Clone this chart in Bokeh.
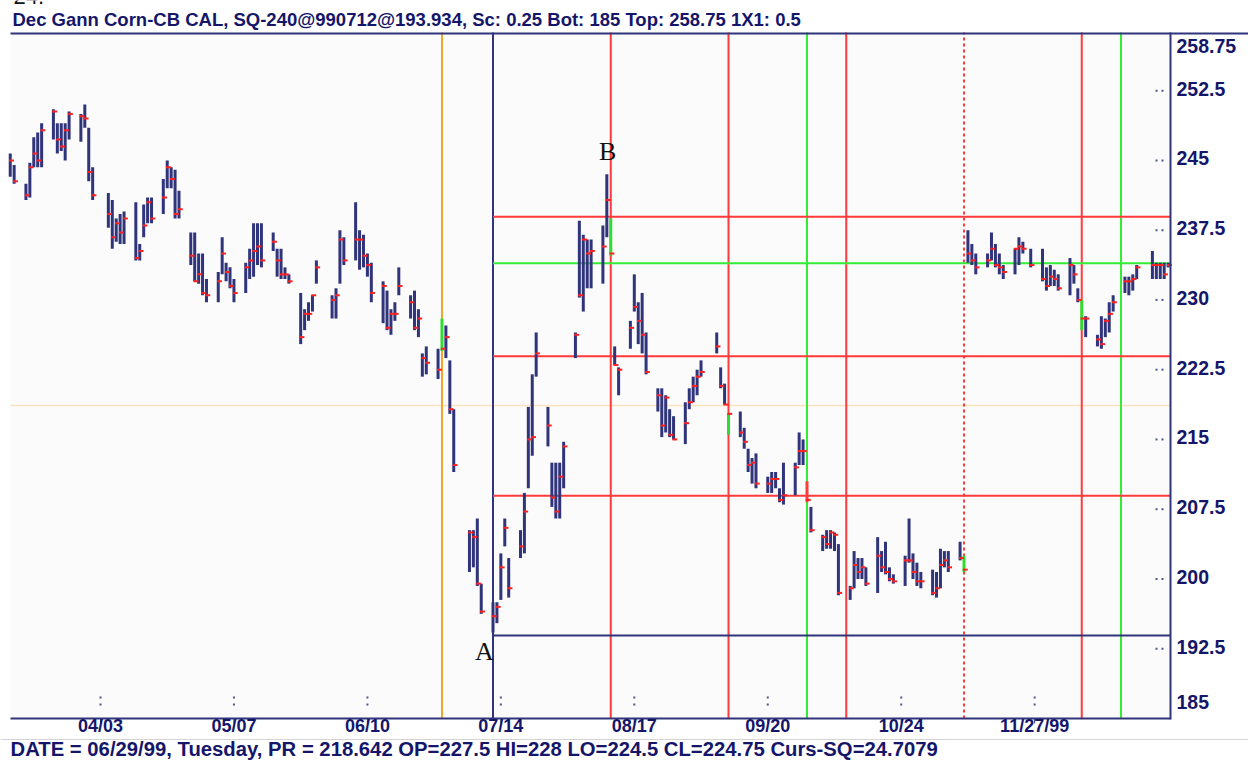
import pandas as pd
from bokeh.plotting import figure
from bokeh.models import Range1d, ColumnDataSource
from bokeh.core.properties import value
from bokeh.embed import file_html
from bokeh.resources import INLINE

# ---------------- data ----------------
first_day, last_day = "1999-03-11", "1999-12-31"
holidays = ["1999-04-02", "1999-05-31", "1999-07-05", "1999-09-06", "1999-11-25", "1999-12-24"]

highs = [
    245.75, 244.5,
    242.5, 244.75, 247.5, 248.0, 249.0,
    250.5, 249.0, 249.0, 249.0, 250.25,
    250.0, 251.0, 248.5, 244.25,
    241.5, 240.75, 238.75, 239.25, 239.5,
    240.5, 236.0, 240.25, 241.0, 241.0,
    243.0, 245.0, 244.25, 244.0, 241.75,
    237.25, 237.25, 235.0, 235.0, 232.25,
    233.0, 236.75, 234.0, 233.5, 232.25,
    234.0, 235.5, 238.25, 238.25, 238.25,
    237.25, 235.5, 235.5, 233.5, 232.75,
    230.75, 229.0, 229.75, 230.5, 234.25,
    230.5, 231.25, 237.5, 236.75,
    240.5, 237.5, 237.0, 235.0, 234.0,
    232.0, 231.0, 229.0, 229.75, 233.5,
    230.5, 231.0, 229.0, 224.25, 225.0,
    224.75, 228.0, 227.25, 223.5, 218.25,
    205.25, 205.25, 206.5, 199.5,
    197.5, 197.5, 202.75, 206.5, 202.25,
    205.25, 209.25, 218.5, 222.0, 226.5,
    218.5, 212.5, 212.5, 212.5, 214.75,
    226.5, 238.5, 237.0, 236.5, 236.5,
    238.0, 243.5, 238.75, 225.0, 222.75,
    227.75, 232.75, 229.75, 230.75, 226.5,
    220.5, 220.5, 219.75, 218.25, 217.5,
    219.0, 220.5, 221.75, 222.5, 223.5,
    226.5, 222.75, 221.0, 217.75,
    218.0, 216.25, 214.0, 213.0, 213.5,
    211.0, 211.5, 211.5, 209.75, 212.5,
    212.5, 215.75, 215.0, 210.5, 207.75,
    204.75, 205.25, 205.25, 205.0, 203.75,
    199.25, 203.0, 202.25, 202.25, 201.25,
    204.5, 203.0, 204.0, 201.25, 200.5,
    202.5, 206.5, 202.75, 201.75, 200.75,
    201.0, 200.75, 203.25, 203.0, 203.0,
    204.0, 202.5, 237.5, 236.0, 235.0,
    235.0, 237.25, 236.0, 235.0, 233.75,
    235.5, 236.75, 236.25, 235.5,
    235.5, 233.5, 233.75, 233.25, 232.75,
    234.5, 233.75, 231.25, 230.0, 228.25,
    226.25, 228.25, 228.0, 229.75, 230.5,
    232.5, 232.5, 232.75, 233.75,
    235.25, 234.0, 234.0, 234.0, 234.0,
]
lows = [
    243.25, 242.5,
    240.75, 241.0, 244.25, 244.25, 244.25,
    247.25, 245.75, 246.0, 245.0, 247.25,
    247.0, 248.5, 242.75, 240.75,
    237.75, 235.5, 236.25, 236.0, 236.0,
    234.25, 234.25, 236.75, 238.25, 238.25,
    239.25, 242.0, 242.0, 238.75, 238.75,
    233.75, 232.0, 231.75, 230.5, 229.75,
    229.75, 232.75, 232.0, 231.25, 229.75,
    230.75, 232.25, 232.5, 233.75, 233.5,
    235.25, 232.5, 232.25, 232.25, 231.75,
    225.25, 226.75, 227.75, 228.75, 231.75,
    228.0, 228.0, 231.75, 233.75,
    234.25, 233.25, 233.5, 232.5, 229.75,
    227.5, 226.75, 226.25, 227.75, 230.5,
    228.0, 226.75, 226.0, 221.75, 222.0,
    221.5, 224.5, 223.75, 217.75, 211.5,
    200.75, 201.25, 199.25, 196.25,
    194.25, 195.25, 197.75, 203.5, 198.0,
    202.25, 202.75, 209.75, 213.25, 221.75,
    214.25, 207.75, 206.5, 206.5, 209.75,
    223.75, 230.25, 228.75, 231.25, 231.25,
    231.75, 236.75, 234.75, 223.0, 219.75,
    224.75, 228.75, 225.25, 224.25, 222.0,
    218.0, 215.25, 215.75, 215.25, 215.0,
    214.5, 218.25, 219.0, 219.75, 221.75,
    224.25, 220.5, 218.75, 215.5,
    215.25, 214.0, 211.5, 210.25, 209.75,
    209.25, 209.25, 209.75, 208.25, 208.0,
    209.0, 212.25, 212.25, 208.25, 205.0,
    203.0, 203.25, 203.25, 203.0, 198.25,
    197.75, 199.0, 200.0, 200.0, 199.25,
    198.5, 200.75, 200.5, 199.75, 199.5,
    199.25, 201.75, 200.0, 199.25, 199.0,
    198.25, 198.0, 199.0, 201.25, 200.75,
    202.0, 200.75, 234.0, 233.75, 232.75,
    233.5, 234.25, 233.5, 232.75, 232.25,
    232.75, 233.75, 235.0, 233.5,
    232.0, 231.0, 231.5, 231.5, 231.0,
    230.5, 231.75, 229.75, 226.75, 226.0,
    225.0, 224.75, 226.0, 226.5, 228.75,
    230.75, 230.5, 231.0, 232.25,
    232.25, 232.25, 232.25, 232.25, 233.5,
]
closes = [
    245.0, 242.75,
    241.25, 244.25, 245.75, 245.0, 248.25,
    250.25, 247.25, 246.5, 248.25, 250.0,
    249.75, 249.5, 243.75, 241.25,
    239.25, 236.75, 238.25, 237.25, 238.75,
    234.5, 235.25, 238.0, 240.5, 238.75,
    241.0, 244.25, 243.0, 239.25, 239.75,
    234.75, 232.0, 232.75, 230.75, 230.5,
    232.0, 235.0, 233.0, 231.5, 230.75,
    233.5, 234.25, 235.25, 235.75, 234.25,
    236.25, 234.25, 232.75, 232.75, 232.0,
    226.0, 228.5, 228.5, 230.5, 233.5,
    230.0, 230.5, 236.5, 234.25,
    236.5, 236.5, 234.75, 233.75, 230.75,
    231.5, 227.0, 228.5, 228.5, 231.5,
    229.75, 227.0, 228.0, 223.75, 223.25,
    222.5, 224.75, 226.0, 218.25, 212.25,
    205.0, 204.5, 199.5, 196.5,
    196.0, 197.0, 201.25, 205.5, 199.0,
    203.5, 207.25, 215.0, 215.25, 224.25,
    216.5, 208.75, 207.25, 211.0, 214.25,
    226.25, 230.5, 236.5, 235.0, 235.25,
    235.75, 240.75, 235.0, 223.0, 222.5,
    227.0, 229.25, 227.75, 226.25, 222.25,
    219.75, 216.5, 219.5, 215.5, 215.0,
    216.75, 219.0, 220.75, 221.75, 222.25,
    225.0, 220.75, 218.75, 217.75,
    215.75, 214.75, 212.25, 212.5, 210.25,
    210.25, 210.75, 210.75, 208.5, 209.0,
    212.0, 213.75, 213.75, 208.5, 205.25,
    204.5, 203.75, 205.0, 204.75, 198.5,
    199.0, 201.5, 200.75, 201.25, 199.5,
    202.5, 201.25, 200.75, 200.0, 199.75,
    202.0, 202.0, 200.75, 199.75, 199.75,
    198.5, 199.0, 201.5, 202.0, 201.25,
    202.25, 201.0, 235.0, 234.25, 233.5,
    234.25, 235.5, 233.75, 233.5, 233.0,
    235.5, 235.75, 235.5, 233.75,
    232.25, 231.5, 232.5, 232.25, 231.25,
    233.75, 232.75, 230.0, 228.0, 228.0,
    225.75, 225.25, 227.75, 228.5, 229.75,
    232.0, 232.0, 232.25, 233.5,
    233.75, 233.75, 233.75, 232.75, 233.75,
]

# Gann square settings
sq_date, sq_price = "1999-07-12", 193.934
red_levels = [208.934, 223.934, 238.934]
green_levels = [233.934]
red_vdates = ["1999-08-11", "1999-09-10", "1999-10-10", "1999-12-09"]
red_dashed_vdates = ["1999-11-09"]
green_vdates = ["1999-09-30", "1999-12-19"]
cursor_date, cursor_price = "1999-06-29", 218.642

marker_text = ["A", "B"]
marker_dates = ["1999-07-09 19:00", "1999-08-10 05:00"]
marker_prices = [192.15, 245.95]

x_tick_dates = ["1999-04-03", "1999-05-07", "1999-06-10", "1999-07-14",
                "1999-08-17", "1999-09-20", "1999-10-24", "1999-11-27"]
x_tick_labels = ["04/03", "05/07", "06/10", "07/14", "08/17", "09/20", "10/24", "11/27/99"]
y_ticks = [192.5, 200, 207.5, 215, 222.5, 230, 237.5, 245, 252.5]
y_bottom, y_top = 185, 258.75

title_text = "Dec Gann Corn-CB CAL, SQ-240@990712@193.934, Sc: 0.25 Bot: 185 Top: 258.75 1X1: 0.5"
status_text = ("DATE = 06/29/99, Tuesday, PR = 218.642 OP=227.5 HI=228 LO=224.5 "
               "CL=224.75 Curs-SQ=24.7079")
page_note = "24."

# ---------------- scales / layout helpers ----------------
EPOCH = pd.Timestamp("1970-01-01")
DAY = 86400000.0


def ms(d):
    return (pd.Timestamp(d) - EPOCH) / pd.Timedelta(milliseconds=1)


W, H = 1248, 761
PLOT_L, PLOT_R, PLOT_T, PLOT_B = 10, 1170, 32, 718       # pixel box of the price panel
x_start = ms("1999-03-11 01:40")
PX_PER_DAY = 3.925
PX_PER_UNIT = (PLOT_B - PLOT_T) / (y_top - y_bottom)
LIFT = 2  # visual centre correction for middle-baseline text, px


def X(px):   # page pixel -> date axis value
    return x_start + (px - PLOT_L) / PX_PER_DAY * DAY


def Y(py):   # page pixel -> price axis value
    return y_bottom + (PLOT_B - py) / PX_PER_UNIT


x_end = X(PLOT_R)

days = [d for d in pd.bdate_range(first_day, last_day) if d.strftime("%Y-%m-%d") not in holidays]
n = min(len(days), len(highs), len(lows), len(closes))
xs = [ms(d) for d in days[:n]]

NAVY = "#30347a"
TXT = "#15166a"
RED = "#ff3a3a"
GREEN = "#35ec35"
SANS = "Liberation Sans"

green_bar_days = set([cursor_date] + red_vdates + red_dashed_vdates)
red_bar_days = set(green_vdates)
colors = []
for d in days[:n]:
    s = d.strftime("%Y-%m-%d")
    colors.append("#2fdc2f" if s in green_bar_days else (RED if s in red_bar_days else NAVY))

src = ColumnDataSource(dict(x=xs, hi=highs[:n], lo=lows[:n], cl=closes[:n], color=colors,
                            tl=[x - 0.3 * DAY for x in xs], tr=[x + 0.95 * DAY for x in xs]))

p = figure(width=W, height=H, x_axis_type="datetime", title=None,
           x_axis_location=None, y_axis_location=None,
           x_range=Range1d(X(0), X(W)), y_range=Range1d(Y(H), Y(0)),
           output_backend="svg", toolbar_location=None,
           min_border=0, min_border_left=0, min_border_right=0,
           min_border_top=0, min_border_bottom=0,
           background_fill_color="white", border_fill_color="white", outline_line_color=None)
p.grid.visible = False

# price-panel background
p.quad(left=[x_start], right=[x_end], bottom=[y_bottom], top=[y_top],
       fill_color="#fbfbfb", line_color=None)

# ---------------- cursor & Gann lines ----------------
p.segment(x0=[x_start], x1=[x_end], y0=[cursor_price], y1=[cursor_price],
          line_color="#fde3bd", line_width=1.5)


def vlines(dates, color, dash="solid"):
    v = [ms(d) for d in dates]
    p.segment(x0=v, x1=v, y0=[y_bottom] * len(v), y1=[y_top] * len(v),
              line_color=color, line_width=2, line_dash=dash)


vlines([cursor_date], "#f4a42c")
vlines([sq_date], NAVY)
vlines(red_vdates, RED)
vlines(red_dashed_vdates, RED, "3 3")
vlines(green_vdates, GREEN)

sx = ms(sq_date)
p.segment(x0=[sx] * len(red_levels), x1=[x_end] * len(red_levels),
          y0=red_levels, y1=red_levels, line_color=RED, line_width=2)
p.segment(x0=[sx] * len(green_levels), x1=[x_end] * len(green_levels),
          y0=green_levels, y1=green_levels, line_color=GREEN, line_width=2)
p.segment(x0=[sx], x1=[x_end], y0=[sq_price], y1=[sq_price], line_color=NAVY, line_width=2)

# ---------------- bars ----------------
p.segment(x0="x", x1="x", y0="lo", y1="hi", line_color="color", line_width=3,
          line_cap="butt", source=src)
p.segment(x0="tl", x1="tr", y0="cl", y1="cl", line_color="#ff2020", line_width=2,
          line_cap="butt", source=src)

# ---------------- A / B labels ----------------
p.text(x=[ms(d) for d in marker_dates], y=marker_prices, text=marker_text,
       text_font=value("Liberation Serif"), text_font_size="26px", text_color="#111111",
       text_align="center", text_baseline="middle")

# ---------------- dotted tick marks inside the panel ----------------
xt = [ms(d) for d in x_tick_dates]
p.scatter(x=xt + xt, y=[Y(697)] * len(xt) + [Y(704)] * len(xt), marker="square", size=2,
          line_color=None, fill_color="#50548a")
p.scatter(x=[X(1156)] * len(y_ticks) + [X(1162)] * len(y_ticks), y=y_ticks + y_ticks,
          marker="square", size=2, line_color=None, fill_color="#50548a")

# ---------------- axis lines ----------------
p.segment(x0=[x_start], x1=[x_end], y0=[y_bottom], y1=[y_bottom], line_color=NAVY, line_width=2)
p.segment(x0=[x_end], x1=[x_end], y0=[Y(PLOT_B + 1)], y1=[y_top], line_color=NAVY, line_width=2)
p.segment(x0=[x_start], x1=[X(W)], y0=[Y(PLOT_T + 1)], y1=[Y(PLOT_T + 1)],
          line_color=NAVY, line_width=2)
p.segment(x0=[X(0)], x1=[X(W)], y0=[Y(739)], y1=[Y(739)], line_color="#d4d4d4", line_width=1)

# x ticks and labels
p.segment(x0=xt, x1=xt, y0=[y_bottom] * len(xt), y1=[Y(PLOT_B + 5)] * len(xt),
          line_color=NAVY, line_width=1)
p.text(x=xt, y=[Y(727 - LIFT)] * len(xt), text=x_tick_labels, text_font=value(SANS),
       text_font_style="bold", text_font_size="18px", text_color=TXT,
       text_align="center", text_baseline="middle")

# y labels (right side)
p.text(x=[X(PLOT_R + 6)] * len(y_ticks), y=[t + LIFT / PX_PER_UNIT for t in y_ticks],
       text=[f"{t:g}" for t in y_ticks],
       text_font=value(SANS), text_font_style="bold", text_font_size="19.5px",
       text_color=TXT, text_align="left", text_baseline="middle")
p.text(x=[X(PLOT_R + 6)] * 2, y=[Y(47 - LIFT), Y(703 - LIFT)],
       text=[f"{y_top:g}", f"{y_bottom:g}"],
       text_font=value(SANS), text_font_style="bold", text_font_size="19.5px",
       text_color=TXT, text_align="left", text_baseline="middle")

# title, status line, page note
p.text(x=[X(12)], y=[Y(20.5 - LIFT)], text=[title_text], text_font=value(SANS),
       text_font_style="bold", text_font_size="18.5px", text_color=TXT,
       text_align="left", text_baseline="middle")
p.text(x=[X(10)], y=[Y(750 - LIFT)], text=[status_text], text_font=value(SANS),
       text_font_style="bold", text_font_size="20.3px", text_color=TXT,
       text_align="left", text_baseline="middle")
p.text(x=[X(13)], y=[Y(-4)], text=[page_note], text_font=value(SANS),
       text_font_size="22px", text_color="#111111",
       text_align="left", text_baseline="middle")

open("out.html", "w").write(file_html(p, INLINE))
